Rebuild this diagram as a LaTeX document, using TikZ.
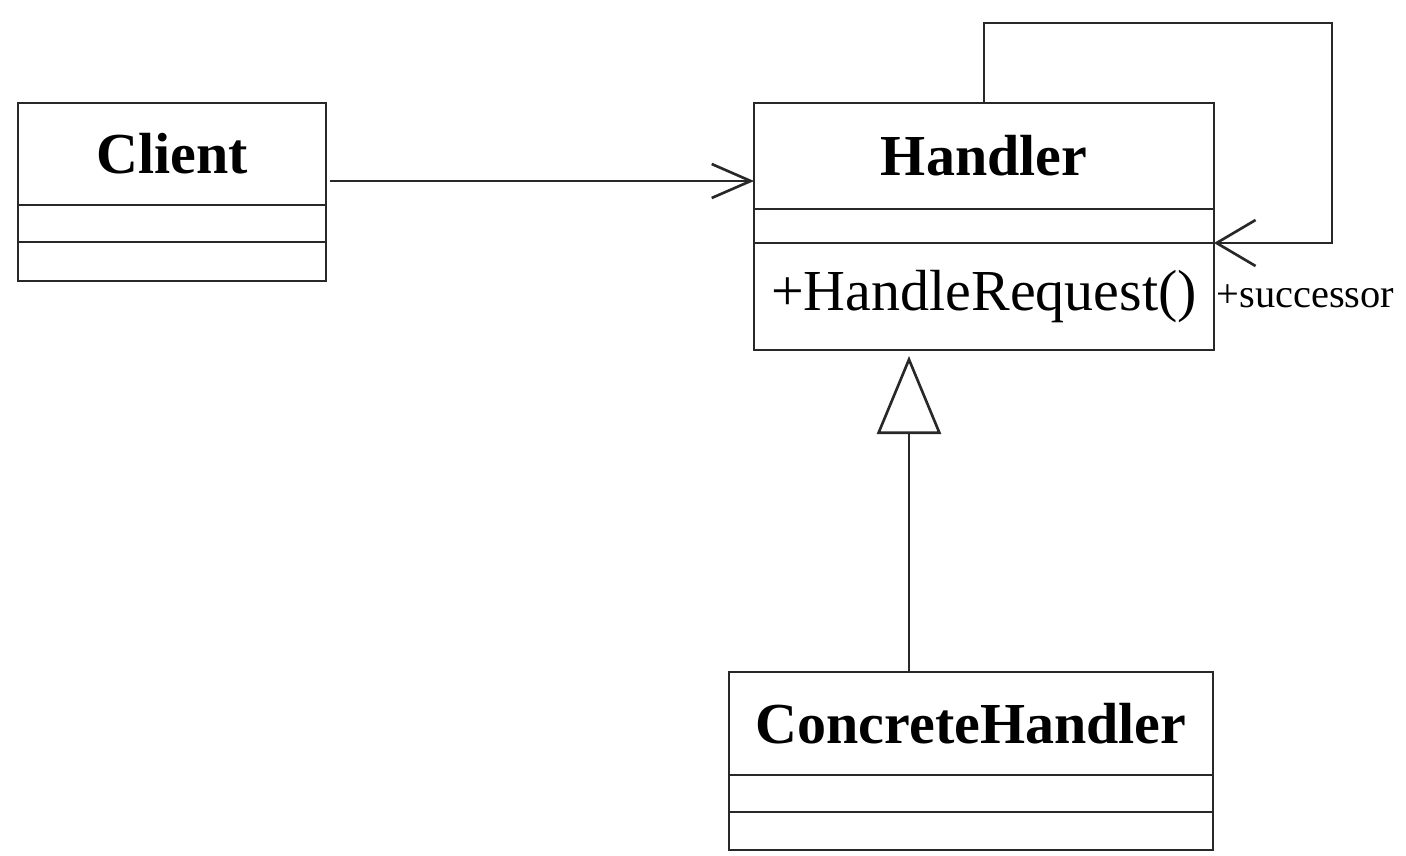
\documentclass[tikz,border=0pt]{standalone}
\usepackage{fontspec}
\setmainfont{Liberation Serif}
\usetikzlibrary{positioning,arrows.meta}
\definecolor{umlline}{RGB}{40,40,40}
\tikzset{
  titlebox/.style  = {rectangle, draw=umlline, line width=0.75pt, inner sep=0pt,
                      outer sep=0pt, font=\fontsize{16.5}{20}\selectfont\bfseries},
  compbox/.style   = {rectangle, draw=umlline, line width=0.75pt, inner sep=0pt,
                      outer sep=0pt, font=\fontsize{16.5}{20}\selectfont},
  assocline/.style = {-{Straight Barb[length=3.9mm, width=#1]}, line width=0.75pt, umlline},
  assocline/.default = 3.4mm,
  genline/.style   = {-{Triangle[open, length=7.8mm, width=6.4mm]}, line width=0.75pt,
                      umlline, shorten >=0.6mm},
  rolelbl/.style   = {font=\fontsize{11.5}{13}\selectfont, inner sep=0pt}
}

\begin{document}
\begin{tikzpicture}[x=0.1mm, y=-0.1mm]
  \useasboundingbox (0,0) rectangle (1406,856);
  % Client
  \node[titlebox, minimum width=30.8mm, minimum height=10.2mm] (cltitle) at (172,154) {Client};
  \node[compbox, minimum width=30.8mm, minimum height=3.7mm, below=0pt of cltitle] (clattr) {};
  \node[compbox, minimum width=30.8mm, minimum height=3.9mm, below=0pt of clattr] (clops) {};
  % Handler
  \node[titlebox, minimum width=46mm, minimum height=10.6mm] (htitle) at (984,156) {Handler};
  \node[compbox, minimum width=46mm, minimum height=3.4mm, below=0pt of htitle] (hattr) {};
  \node[compbox, minimum width=46mm, minimum height=10.7mm, below=0pt of hattr] (hops) {+HandleRequest()};
  % ConcreteHandler
  \node[titlebox, minimum width=48.4mm, minimum height=10.3mm] (chtitle) at (971,723.5) {ConcreteHandler};
  \node[compbox, minimum width=48.4mm, minimum height=3.7mm, below=0pt of chtitle] (chattr) {};
  \node[compbox, minimum width=48.4mm, minimum height=3.8mm, below=0pt of chattr] (chops) {};
  % Role name of the self association
  \node[rolelbl, anchor=base west] (succ) at (1216,307) {+successor};
  % Client -> Handler
  \coordinate (clout) at ([xshift=0.4mm, yshift=-2.7mm]cltitle.east);
  \draw[assocline] (clout) -- (clout -| htitle.west);
  % Handler -> Handler (successor)
  \coordinate (loopc) at (1332,23);
  \draw[assocline=4.6mm] (htitle.north) |- (loopc) |- (hattr.south east);
  % ConcreteHandler inherits Handler
  \coordinate (genx) at (909,0);
  \draw[genline] (chtitle.north -| genx) -- (hops.south -| genx);
\end{tikzpicture}
\end{document}
